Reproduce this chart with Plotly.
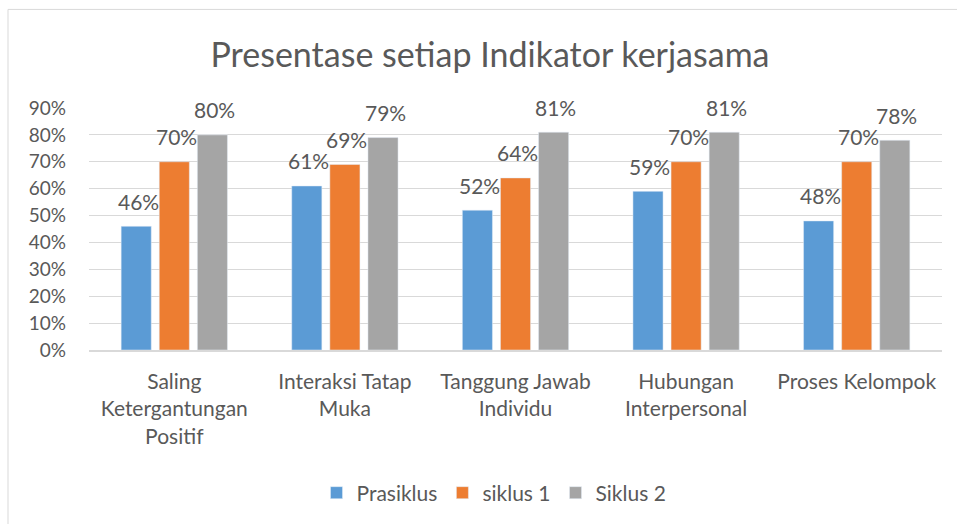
import plotly.graph_objects as go

categories = ["Saling<br>Ketergantungan<br>Positif", "Interaksi Tatap<br>Muka",
              "Tanggung Jawab<br>Individu", "Hubungan<br>Interpersonal", "Proses Kelompok"]
prasiklus = [0.46, 0.61, 0.52, 0.59, 0.48]
siklus1 = [0.70, 0.69, 0.64, 0.70, 0.70]
siklus2 = [0.80, 0.79, 0.81, 0.81, 0.78]
series_names = ["Prasiklus", "siklus 1", "Siklus 2"]
colors = ["#5B9BD5", "#ED7D31", "#A5A5A5"]

FONT = "Lato"
TXT = "#595959"

W, H = 957, 524
L, R, T, B = 89, 942, 108, 351
def px(x): return (x - L) / (R - L)
def py(y): return (B - y) / (B - T)

BARGAP = 0.33
slot_px = (1 - BARGAP) * (R - L) / len(categories) / 3

fig = go.Figure()
all_series = [prasiklus, siklus1, siklus2]
for name, vals, c in zip(series_names, all_series, colors):
    fig.add_trace(go.Bar(x=categories, y=vals, name=name, marker_color=c))

for i, vals in enumerate(all_series):
    for cat, v in zip(categories, vals):
        fig.add_annotation(x=cat, y=v, text=f"{round(v*100)}%", showarrow=False,
                           xshift=(i - 1) * slot_px + 2, yshift=25, yanchor="middle",
                           font=dict(family=FONT, size=21, color=TXT))

fig.update_layout(
    width=W, height=H,
    margin=dict(l=L, r=W - R, t=T, b=H - B),
    paper_bgcolor="white", plot_bgcolor="white",
    barmode="group", bargap=BARGAP, bargroupgap=0.21,
    font=dict(family=FONT, color=TXT),
    title=dict(text="Presentase setiap Indikator kerjasama", x=0.512, xanchor="center",
               y=1 - 55 / H, yanchor="middle", yref="container",
               font=dict(family=FONT, size=34, color=TXT)),
    legend=dict(orientation="h", x=px(494), xanchor="center", y=py(493), yanchor="middle",
                font=dict(family=FONT, size=21, color=TXT), itemwidth=30, traceorder="normal"),
    showlegend=True,
)
fig.update_yaxes(range=[0, 0.9], dtick=0.1, tickformat=".0%", showgrid=True,
                 gridcolor="#D9D9D9", gridwidth=1, zeroline=False,
                 tickfont=dict(family=FONT, size=19, color=TXT), ticklabelstandoff=22,
                 fixedrange=True)
fig.update_xaxes(showline=True, linecolor="#D9D9D9", linewidth=1.5,
                 tickfont=dict(family=FONT, size=21, color=TXT), ticklabelstandoff=12)

fig.add_shape(type="rect", xref="paper", yref="paper",
              x0=px(8), x1=px(975), y0=py(545), y1=py(9),
              line=dict(color="#D9D9D9", width=1), layer="below")

fig.write_html("out.html")
